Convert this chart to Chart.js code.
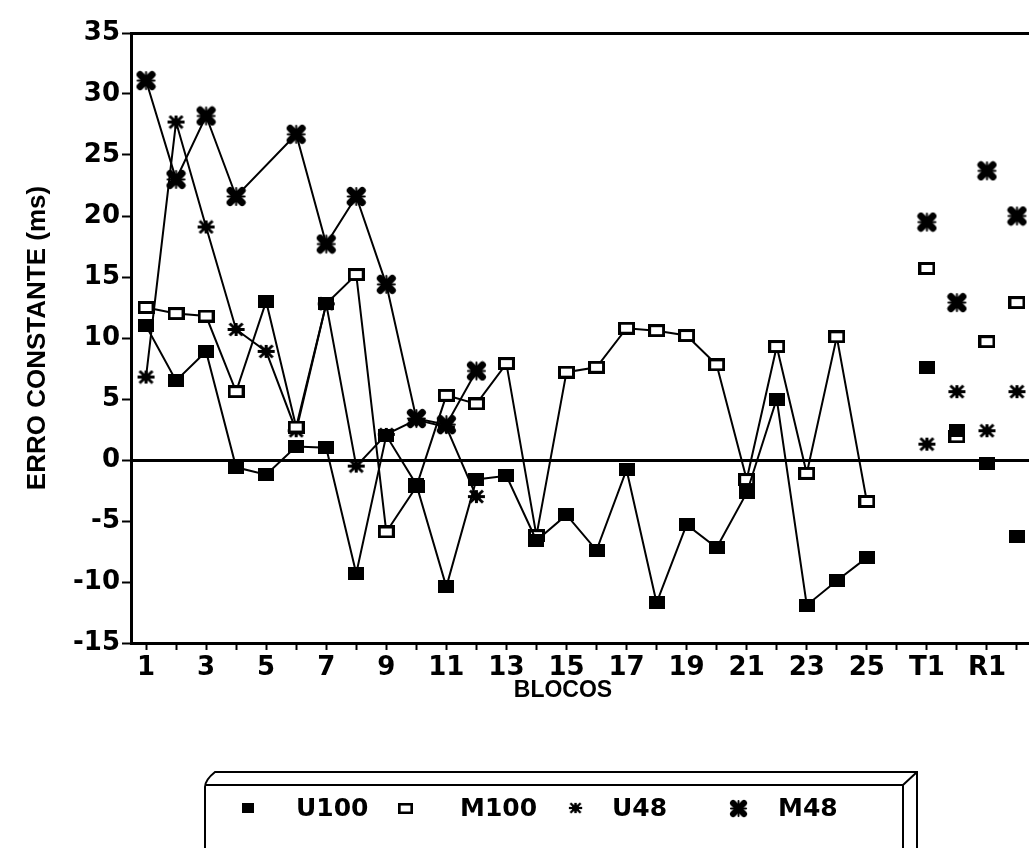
<!DOCTYPE html>
<html>
<head>
<meta charset="utf-8">
<script src="https://cdn.jsdelivr.net/npm/chart.js@4/dist/chart.umd.min.js"></script>
<style>
  body { margin: 0; background: #fff; overflow: hidden; width: 1029px; height: 848px; position: relative; }
  #wrap { position: absolute; left: 0; top: 0; width: 1042px; height: 720px; }
  #frame { position: absolute; left: 0; top: 0; }
  .txt { position: absolute; font-family: "DejaVu Sans"; font-weight: bold; font-size: 25px; line-height: 26px; color: #000; white-space: nowrap; }
  .mk { position: absolute; }
  #xtitle { position: absolute; left: 0; width: 1126px; top: 677px; text-align: center; font-family: "Liberation Sans"; font-weight: bold; font-size: 23px; line-height: 24px; }
</style>
</head>
<body>
<div id="wrap"><canvas id="chart"></canvas></div>
<div id="xtitle">BLOCOS</div>
<svg id="frame" width="1029" height="848">
  <path d="M205,848 L205,787 Q205,780 215,772 L917,772 L917,848" fill="none" stroke="#000" stroke-width="2"/>
  <path d="M205,785 L903,785 L917,772 M903,785 L903,848" fill="none" stroke="#000" stroke-width="2"/>
</svg>
<div id="legend"></div>
<script>
// blocks 1..25, gap, then test/retention blocks
var labels = ['1','2','3','4','5','6','7','8','9','10','11','12','13','14','15','16','17','18','19','20',
  '21','22','23','24','25','','T1','T2','R1','R2'];
var seriesNames = ['U100', 'M100', 'U48', 'M48'];

var u100 = [11.0, 6.5, 8.9, -0.6, -1.2, 1.1, 1.0, -9.3, 2.0, -2.0, -10.4, -1.6, -1.3, -6.6, -4.5,
  -7.4, -0.8, -11.7, -5.3, -7.2, -2.7, 5.0, -11.9, -9.9, -8.0, null, 7.6, 2.4, -0.3, -6.3];
var m100 = [12.5, 12.0, 11.8, 5.6, 13.0, 2.7, 12.8, 15.2, -5.9, -2.2, 5.3, 4.6, 7.9, -6.2, 7.2,
  7.6, 10.8, 10.6, 10.2, 7.8, -1.6, 9.3, -1.1, 10.1, -3.4, null, 15.7, 1.9, 9.7, 12.9];
var u48 = [6.8, 27.7, 19.1, 10.7, 8.9, 2.4, 12.8, -0.5, 2.1, 3.3, 2.7, -3.0, null, null, null,
  null, null, null, null, null, null, null, null, null, null, null, 1.3, 5.6, 2.4, 5.6];
var m48 = [31.1, 23.0, 28.2, 21.6, null, 26.7, 17.7, 21.6, 14.4, 3.4, 2.9, 7.3, null, null, null,
  null, null, null, null, null, null, null, null, null, null, null, 19.5, 12.9, 23.7, 20.0];

var yTicks = [-15, -10, -5, 0, 5, 10, 15, 20, 25, 30, 35];

// marker images
function mk(w, h, draw) {
  var c = document.createElement('canvas');
  c.width = w; c.height = h;
  var g = c.getContext('2d');
  g.strokeStyle = '#000'; g.fillStyle = '#000';
  draw(g);
  return c;
}
var markFilled = mk(16, 13, function(g) { g.fillRect(0, 0, 16, 13); });
var markOpen = mk(17, 13, function(g) {
  g.fillStyle = '#fff'; g.fillRect(0, 0, 17, 13);
  g.lineWidth = 3; g.strokeRect(1.5, 1.5, 14, 10);
});
var markU48 = mk(19, 15, function(g) {
  g.lineWidth = 3;
  g.beginPath();
  g.moveTo(1, 7.5); g.lineTo(18, 7.5);
  g.moveTo(3, 1.5); g.lineTo(16, 13.5);
  g.moveTo(16, 1.5); g.lineTo(3, 13.5);
  g.moveTo(9.5, 1); g.lineTo(9.5, 14);
  g.stroke();
  g.beginPath(); g.ellipse(9.5, 7.5, 5, 4, 0, 0, Math.PI * 2); g.fill();
});
var markM48 = mk(21, 21, function(g) {
  g.lineCap = 'round';
  g.lineWidth = 7;
  g.beginPath();
  g.moveTo(4.5, 4.5); g.lineTo(16.5, 16.5);
  g.moveTo(16.5, 4.5); g.lineTo(4.5, 16.5);
  g.stroke();
  g.beginPath(); g.arc(10.5, 10.5, 5, 0, Math.PI * 2); g.fill();
  g.lineWidth = 2;
  g.beginPath();
  g.moveTo(2, 10.5); g.lineTo(19, 10.5);
  g.moveTo(10.5, 2); g.lineTo(10.5, 19);
  g.stroke();
});

// no connecting lines into the T/R blocks
function hideTail(ctx) { return ctx.p1DataIndex >= 25 ? 'rgba(0,0,0,0)' : undefined; }

function ds(label, data, style, extra) {
  var d = {
    label: label,
    data: data,
    borderColor: '#000',
    borderWidth: 2,
    pointStyle: style,
    pointRadius: 8,
    pointHoverRadius: 8,
    tension: 0,
    segment: { borderColor: hideTail }
  };
  for (var k in extra) d[k] = extra[k];
  return d;
}

var tickFont = { family: 'DejaVu Sans', weight: 'bold', size: 26 };

new Chart(document.getElementById('chart'), {
  type: 'line',
  data: {
    labels: labels,
    datasets: [
      ds(seriesNames[0], u100, markFilled, {}),
      // the 5th and 7th M100 squares print solid in the original
      ds(seriesNames[1], m100, function(c) { return (c.dataIndex === 4 || c.dataIndex === 6) ? markFilled : markOpen; }, {}),
      ds(seriesNames[2], u48, markU48, {}),
      ds(seriesNames[3], m48, markM48, { spanGaps: true })
    ]
  },
  options: {
    responsive: true,
    maintainAspectRatio: false,
    animation: false,
    layout: { padding: { top: 33, left: 0, right: 2, bottom: 0 } },
    plugins: { legend: { display: false }, tooltip: { enabled: false } },
    scales: {
      x: {
        offset: true,
        grid: { drawOnChartArea: false, offset: false, tickLength: 7, tickWidth: 2, tickColor: '#000' },
        border: { color: '#000', width: 3 },
        ticks: {
          autoSkip: false, maxRotation: 0, color: '#000', font: tickFont, padding: 3,
          callback: function(v, i) { return i % 2 === 0 ? labels[i] : ''; }
        },
        afterFit: function(a) { a.height = 77; }
      },
      y: {
        min: -15, max: 35,
        afterBuildTicks: function(a) { a.ticks = yTicks.map(function(v) { return { value: v }; }); },
        grid: {
          color: function(c) { return (c.tick && (c.tick.value === 0 || c.tick.value === 35)) ? '#000' : 'rgba(0,0,0,0)'; },
          lineWidth: 3, tickColor: '#000', tickWidth: 2, tickLength: 9
        },
        border: { color: '#000', width: 3 },
        ticks: { color: '#000', font: tickFont, padding: 2 },
        title: {
          display: true, text: 'ERRO CONSTANTE (ms)', color: '#000',
          font: { family: 'Liberation Sans', weight: 'bold', size: 26 },
          padding: { top: 22, bottom: 0 }
        },
        afterFit: function(a) { a.width = 131; }
      }
    }
  }
});

// legend box contents
var legendItems = [
  { mark: markFilled, mx: 248, w: 12, h: 10, text: seriesNames[0], tx: 296 },
  { mark: markOpen, mx: 405, w: 15, h: 11, text: seriesNames[1], tx: 460 },
  { mark: markU48, mx: 575, w: 15, h: 12, text: seriesNames[2], tx: 612 },
  { mark: markM48, mx: 738, w: 19, h: 19, text: seriesNames[3], tx: 778 }
];
var leg = document.getElementById('legend');
legendItems.forEach(function(it) {
  var img = document.createElement('img');
  img.src = it.mark.toDataURL();
  img.className = 'mk';
  img.style.width = it.w + 'px'; img.style.height = it.h + 'px';
  img.style.left = (it.mx - it.w / 2) + 'px';
  img.style.top = (808 - it.h / 2) + 'px';
  leg.appendChild(img);
  var s = document.createElement('div');
  s.className = 'txt';
  s.textContent = it.text;
  s.style.left = it.tx + 'px';
  s.style.top = '795px';
  leg.appendChild(s);
});
</script>
</body>
</html>
